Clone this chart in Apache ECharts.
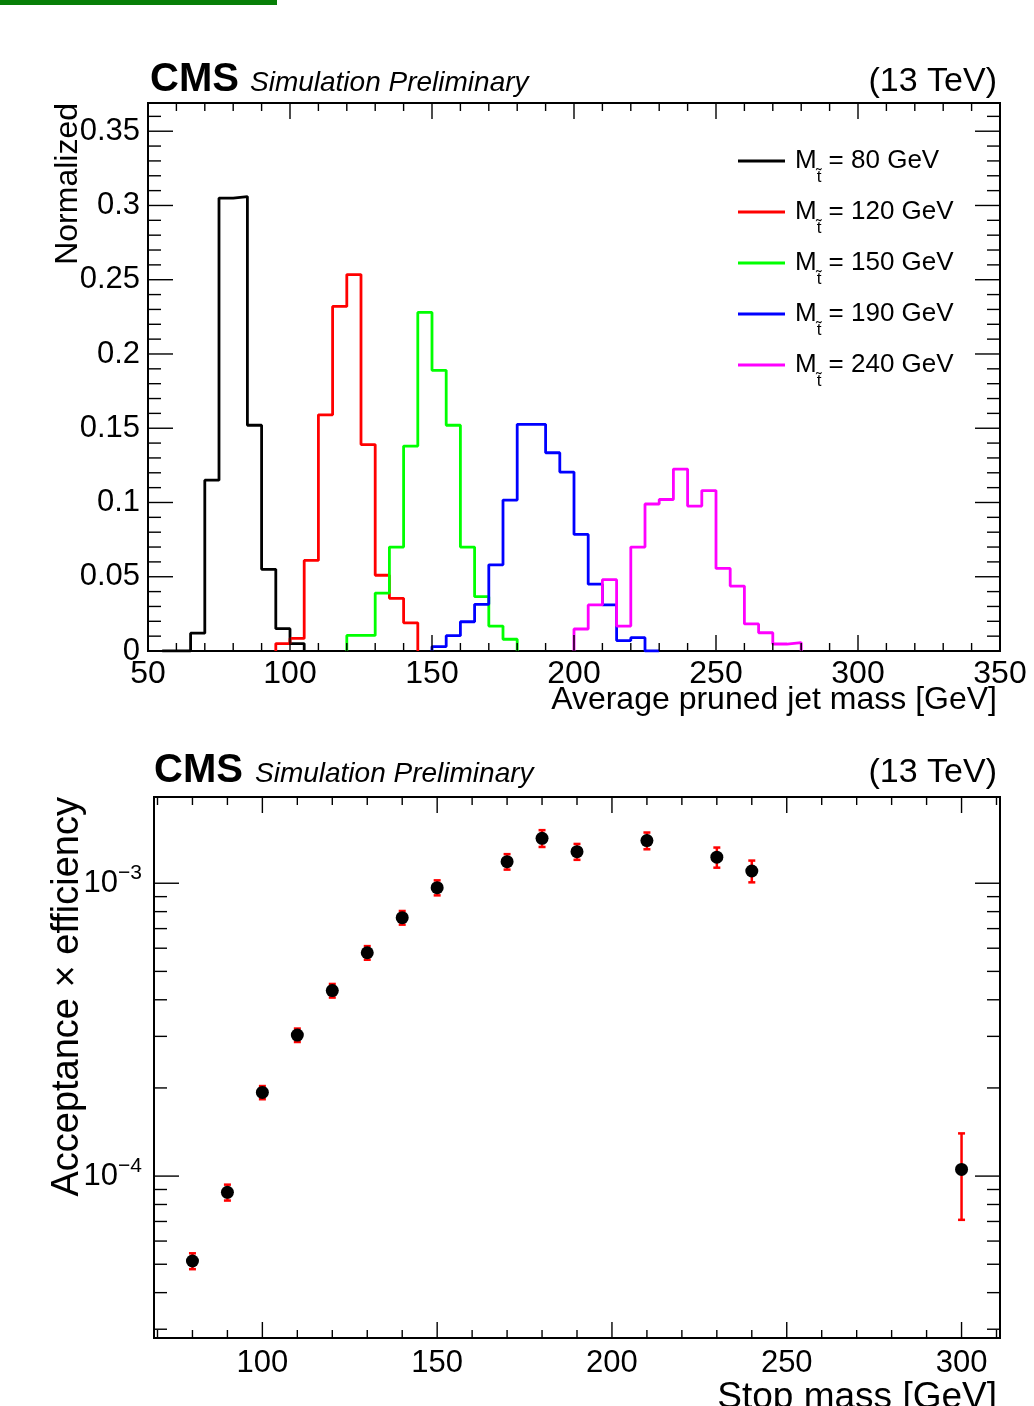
<!DOCTYPE html>
<html><head><meta charset="utf-8">
<script src="https://cdn.jsdelivr.net/npm/echarts@6/dist/echarts.min.js"></script>
<style>html,body{margin:0;padding:0;background:#fff}#c{width:1034px;height:1406px}</style>
</head><body><div id="c"></div>
<script>
const FONT = 'Liberation Sans, Arial, Helvetica, sans-serif';

// ---------- top panel: pruned jet mass histograms (bin width 5 GeV) ----------
const BIN_W = 5;
const massLabels = ['80', '120', '150', '190', '240'];
const histColors = ['#000000', '#ff0000', '#00ff00', '#0000ff', '#ff00ff'];
const hist80Start = 55;
const hist80 = [0, 0, 0.012, 0.115, 0.305, 0.306, 0.152, 0.055, 0.015, 0.005];
const hist120Start = 95;
const hist120 = [0.005, 0.0085, 0.061, 0.159, 0.232, 0.2535, 0.139, 0.051, 0.0355, 0.019];
const hist150Start = 120;
const hist150 = [0.0105, 0.0105, 0.039, 0.070, 0.138, 0.228, 0.189, 0.152, 0.070, 0.0366, 0.0168, 0.0079];
const hist190Start = 150;
const hist190 = [0.003, 0.0103, 0.0197, 0.0314, 0.058, 0.1016, 0.1526, 0.1526, 0.1335, 0.1205, 0.0785, 0.045, 0.031, 0.007, 0.009, 0];
const hist240Start = 200;
const hist240 = [0.0148, 0.031, 0.048, 0.0168, 0.070, 0.099, 0.102, 0.1225, 0.0976, 0.108, 0.0556, 0.0437, 0.0182, 0.0123, 0.0047, 0.0056];
const histStarts = [hist80Start, hist120Start, hist150Start, hist190Start, hist240Start];
const histVals = [hist80, hist120, hist150, hist190, hist240];

const topXRange = [50, 350];
const topYRange = [0, 0.369];
const topXMajor = [50, 100, 150, 200, 250, 300, 350];
const topXMinorStep = 10;
const topYMajor = [0, 0.05, 0.1, 0.15, 0.2, 0.25, 0.3, 0.35];
const topYMinorStep = 0.01;

// ---------- bottom panel: acceptance x efficiency ----------
const stopMass = [80, 90, 100, 110, 120, 130, 140, 150, 170, 180, 190, 210, 230, 240, 300];
const accEff = [5.13e-5, 8.80e-5, 1.93e-4, 3.03e-4, 4.30e-4, 5.79e-4, 7.63e-4, 9.66e-4, 1.185e-3, 1.424e-3, 1.282e-3, 1.398e-3, 1.227e-3, 1.101e-3, 1.054e-4];
const accEffErr = [0.32e-5, 0.55e-5, 1.0e-5, 1.6e-5, 2.3e-5, 3.1e-5, 4.1e-5, 5.7e-5, 7.2e-5, 9.4e-5, 8.0e-5, 9.2e-5, 9.7e-5, 9.4e-5, 3.45e-5];

const botXRange = [69, 311];
const botYRange = [2.8e-5, 1.97e-3];
const botXMajor = [100, 150, 200, 250, 300];
const botXMinor = [70, 80, 90, 110, 120, 130, 140, 160, 170, 180, 190, 210, 220, 230, 240, 260, 270, 280, 290, 310];
const botYMajor = [1e-4, 1e-3];
const botYMinor = [3e-5, 4e-5, 5e-5, 6e-5, 7e-5, 8e-5, 9e-5, 2e-4, 3e-4, 4e-4, 5e-4, 6e-4, 7e-4, 8e-4, 9e-4];

// ---------- helpers ----------
function stepPoints(start, vals) {
  const pts = [[start, 0]];
  vals.forEach((v, i) => {
    const lo = start + i * BIN_W;
    pts.push([lo, v], [lo + BIN_W, v]);
  });
  pts.push([start + vals.length * BIN_W, 0]);
  return pts;
}
function minorList(range, step, majors) {
  const out = [];
  const n = Math.round((range[1] - range[0]) / step);
  for (let i = 0; i <= n; i++) {
    const v = +(range[0] + i * step).toFixed(6);
    if (v > range[1] + 1e-9) break;
    if (!majors.some(m => Math.abs(m - v) < 1e-9)) out.push(v);
  }
  return out;
}
function tickSeries(idx, values, dir, len, ref) {
  return {
    type: 'custom', xAxisIndex: idx, yAxisIndex: idx, silent: true, z: 6, clip: false,
    animation: false,
    data: values.map(v => dir === 'x' ? [v, ref] : [ref, v]),
    renderItem: (params, api) => {
      const cs = params.coordSys;
      const p = api.coord([api.value(0), api.value(1)]);
      const st = { stroke: '#000', lineWidth: 1.4 };
      if (dir === 'x') {
        const x = p[0];
        return { type: 'group', children: [
          { type: 'line', shape: { x1: x, y1: cs.y + cs.height, x2: x, y2: cs.y + cs.height - len }, style: st },
          { type: 'line', shape: { x1: x, y1: cs.y, x2: x, y2: cs.y + len }, style: st }
        ]};
      }
      const y = p[1];
      return { type: 'group', children: [
        { type: 'line', shape: { x1: cs.x, y1: y, x2: cs.x + len, y2: y }, style: st },
        { type: 'line', shape: { x1: cs.x + cs.width, y1: y, x2: cs.x + cs.width - len, y2: y }, style: st }
      ]};
    }
  };
}

const topXMinor = minorList(topXRange, topXMinorStep, topXMajor);
const topYMinor = minorList([0, 0.36], topYMinorStep, topYMajor);
const topYRef = 0.1, topXRef = 200;
const botYRef = 3e-4, botXRef = 200;

const series = [];
massLabels.forEach((m, i) => {
  series.push({
    name: m, type: 'line', xAxisIndex: 0, yAxisIndex: 0,
    data: stepPoints(histStarts[i], histVals[i]),
    showSymbol: false, symbol: 'none', clip: true, z: 3 + i * 0.01,
    lineStyle: { color: histColors[i], width: 2.8 },
    itemStyle: { color: histColors[i] },
    animation: false
  });
});
series.push(tickSeries(0, topXMajor, 'x', 16, topYRef));
series.push(tickSeries(0, topXMinor, 'x', 8, topYRef));
series.push(tickSeries(0, topYMajor, 'y', 25, topXRef));
series.push(tickSeries(0, topYMinor, 'y', 13, topXRef));
series.push(tickSeries(1, botXMajor, 'x', 16, botYRef));
series.push(tickSeries(1, botXMinor, 'x', 8, botYRef));
series.push(tickSeries(1, botYMajor, 'y', 25, botXRef));
series.push(tickSeries(1, botYMinor, 'y', 13, botXRef));

series.push({
  type: 'custom', xAxisIndex: 1, yAxisIndex: 1, z: 8, silent: true, animation: false,
  data: stopMass.map((m, i) => [m, accEff[i], accEffErr[i]]),
  renderItem: (params, api) => {
    const x = api.value(0), y = api.value(1), e = api.value(2);
    const hi = api.coord([x, y + e]);
    const lo = api.coord([x, y - e]);
    const st = { stroke: '#ff0000', lineWidth: 2.5 };
    return { type: 'group', children: [
      { type: 'line', shape: { x1: hi[0], y1: hi[1], x2: lo[0], y2: lo[1] }, style: st },
      { type: 'line', shape: { x1: hi[0] - 3.5, y1: hi[1], x2: hi[0] + 3.5, y2: hi[1] }, style: st },
      { type: 'line', shape: { x1: lo[0] - 3.5, y1: lo[1], x2: lo[0] + 3.5, y2: lo[1] }, style: st }
    ]};
  }
});
series.push({
  type: 'scatter', xAxisIndex: 1, yAxisIndex: 1, z: 10, animation: false,
  data: stopMass.map((m, i) => [m, accEff[i]]),
  symbol: 'circle', symbolSize: 13, itemStyle: { color: '#000', opacity: 1 }
});

function expLabel(v) {
  const e = Math.round(Math.log10(v));
  if (Math.abs(Math.log10(v) - e) > 1e-6) return '';
  return '{b|10}{sup|\u2212' + (-e) + '}';
}

const titleTexts = [
  { x: 150, y: 80, text: 'CMS', font: 'bold 40px ' + FONT, align: 'left' },
  { x: 250, y: 83, text: 'Simulation Preliminary', font: 'italic 28px ' + FONT, align: 'left' },
  { x: 997, y: 82, text: '(13 TeV)', font: '34px ' + FONT, align: 'right' },
  { x: 154, y: 771, text: 'CMS', font: 'bold 40px ' + FONT, align: 'left' },
  { x: 255, y: 774, text: 'Simulation Preliminary', font: 'italic 28px ' + FONT, align: 'left' },
  { x: 997, y: 773, text: '(13 TeV)', font: '34px ' + FONT, align: 'right' },
  { x: 997, y: 700, text: 'Average pruned jet mass [GeV]', font: '32px ' + FONT, align: 'right' },
  { x: 997, y: 1398, text: 'Stop mass [GeV]', font: '37px ' + FONT, align: 'right' }
];
const graphics = [
  { type: 'rect', shape: { x: 0, y: 0, width: 277, height: 5 }, style: { fill: '#077f07' } }
];
titleTexts.forEach(t => graphics.push({
  type: 'text', x: t.x, y: t.y,
  style: { text: t.text, font: t.font, fill: '#000', align: t.align, verticalAlign: 'middle' }
}));
graphics.push({ type: 'text', x: 68, y: 103, rotation: Math.PI / 2,
  style: { text: 'Normalized', font: '32px ' + FONT, fill: '#000', align: 'right', verticalAlign: 'middle' } });
graphics.push({ type: 'text', x: 68, y: 797, rotation: Math.PI / 2,
  style: { text: 'Acceptance \u00d7 efficiency', font: '38px ' + FONT, fill: '#000', align: 'right', verticalAlign: 'middle' } });

const chart = echarts.init(document.getElementById('c'), null, { renderer: 'canvas' });
chart.setOption({
  animation: false,
  backgroundColor: '#ffffff',
  textStyle: { fontFamily: FONT },
  grid: [
    { left: 148, top: 103, width: 852, height: 548, show: true, borderColor: '#000', borderWidth: 2, backgroundColor: 'transparent' },
    { left: 154, top: 797, width: 846, height: 541, show: true, borderColor: '#000', borderWidth: 2, backgroundColor: 'transparent' }
  ],
  xAxis: [
    { type: 'value', gridIndex: 0, min: topXRange[0], max: topXRange[1], interval: 50,
      axisLine: { show: false }, axisTick: { show: false }, splitLine: { show: false },
      axisLabel: { color: '#000', fontSize: 32, fontFamily: FONT, margin: 7 } },
    { type: 'value', gridIndex: 1, min: botXRange[0], max: botXRange[1],
      axisLine: { show: false }, axisTick: { show: false }, splitLine: { show: false },
      axisLabel: { color: '#000', fontSize: 31, fontFamily: FONT, margin: 10,
        showMinLabel: false, showMaxLabel: false,
        formatter: v => botXMajor.includes(Math.round(v)) && Math.abs(v - Math.round(v)) < 1e-6 ? String(Math.round(v)) : '' } }
  ],
  yAxis: [
    { type: 'value', gridIndex: 0, min: topYRange[0], max: topYRange[1], interval: 0.05,
      axisLine: { show: false }, axisTick: { show: false }, splitLine: { show: false },
      axisLabel: { color: '#000', fontSize: 31, fontFamily: FONT, margin: 8, showMaxLabel: false,
        padding: [6, 0, 0, 0],
        formatter: v => (v > 0.3601 ? '' : String(+v.toFixed(2))) } },
    { type: 'log', logBase: 10, gridIndex: 1, min: botYRange[0], max: botYRange[1],
      axisLine: { show: false }, axisTick: { show: false }, splitLine: { show: false },
      axisLabel: { color: '#000', fontFamily: FONT, margin: 12, formatter: expLabel,
        rich: {
          b: { fontSize: 31, lineHeight: 31, verticalAlign: 'bottom', fontFamily: FONT, color: '#000' },
          sup: { fontSize: 21, lineHeight: 21, padding: [0, 0, 15, 0], verticalAlign: 'bottom', fontFamily: FONT, color: '#000' }
        } } }
  ],
  legend: {
    data: massLabels, orient: 'vertical', left: 738, top: 148, padding: 0,
    itemGap: 13, itemWidth: 47, itemHeight: 3, icon: 'rect',
    formatter: name => '{m|M}{s|t\u0303}{r| = ' + name + ' GeV}',
    textStyle: { color: '#000', fontFamily: FONT,
      rich: {
        m: { fontSize: 26, lineHeight: 50, padding: [0, 0, 0, 5], verticalAlign: 'middle', fontFamily: FONT, color: '#000' },
        s: { fontSize: 17, lineHeight: 19, verticalAlign: 'bottom', fontFamily: FONT, color: '#000' },
        r: { fontSize: 26, lineHeight: 50, verticalAlign: 'middle', fontFamily: FONT, color: '#000' }
      } }
  },
  graphic: graphics,
  series: series
});
</script></body></html>
